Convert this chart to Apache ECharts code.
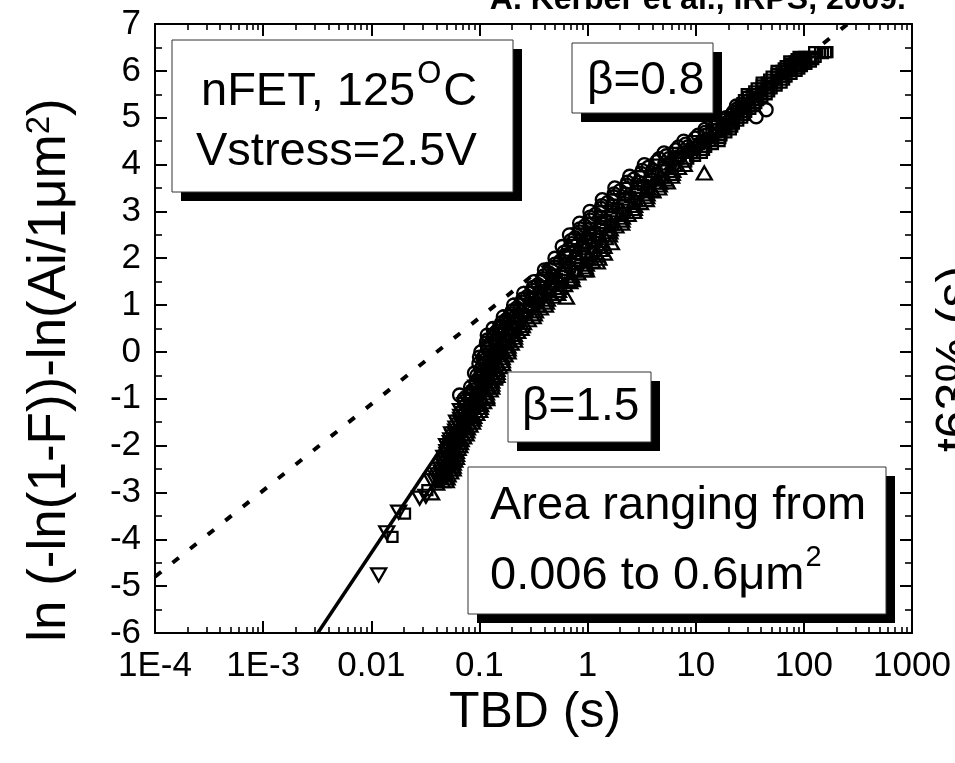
<!DOCTYPE html>
<html>
<head>
<meta charset="utf-8">
<script src="https://cdn.jsdelivr.net/npm/echarts@6/dist/echarts.min.js"></script>
<style>
  html, body { margin: 0; padding: 0; background: #fff; }
  #chart { width: 955px; height: 763px; }
</style>
</head>
<body>
<div id="chart"></div>
<script>
// Weibull plot of breakdown times: x = TBD (s), y = ln(-ln(1-F)) - ln(Ai/1um^2)

// Axis ticks
const xTickValues = [1e-4, 1e-3, 0.01, 0.1, 1, 10, 100, 1000];
const xTickText = ['1E-4', '1E-3', '0.01', '0.1', '1', '10', '100', '1000'];
const yTickValues = [-6, -5, -4, -3, -2, -1, 0, 1, 2, 3, 4, 5, 6, 7];

// Measured points [TBD (s), scaled Weibit], one array per device area
const circles = [
  [0.0655,-0.92],[0.09,-0.45],[0.1,-0.11],[0.116,0.19],[0.118,0.36],[0.153,0.51],[0.178,0.58],
  [0.22,0.79],[0.309,1.15],[0.359,1.26],[6.6,4.14],[8.7,4.31],[12.5,4.63],[15.5,4.74],[20.4,4.91],
  [36.2,5.02],[44.8,5.17],
  [0.0723,-1.0],[0.0828,-0.75],[0.0948,-0.5],[0.0989,-0.25],[0.1030,0.0],[0.1175,0.25],[0.1334,0.5],
  [0.1663,0.75],[0.2070,1.0],[0.2564,1.25],[0.3192,1.5],[0.3990,1.75],[0.4989,2.0],[0.5821,2.25],
  [0.6792,2.5],[0.8433,2.75],[1.050,3.0],[1.368,3.25],[1.786,3.5],[2.449,3.75],[3.350,4.0],
  [5.093,4.25],[7.745,4.5],[12.16,4.75],[19.10,5.0],[23.77,5.25],
  [0.0820,-0.875],[0.0938,-0.625],[0.1026,-0.375],[0.1081,-0.125],[0.1183,0.125],[0.1346,0.375],
  [0.1607,0.625],[0.2009,0.875],[0.2512,1.125],[0.3141,1.375],[0.3926,1.625],[0.4989,1.875],
  [0.6039,2.125],[0.6998,2.375],[0.8453,2.625],[1.054,2.875],[1.349,3.125],[1.758,3.375],
  [2.339,3.625],[3.199,3.875],[4.581,4.125],[6.934,4.375],[10.54,4.625],[16.14,4.875],[22.34,5.125],
  [1.050,2.625],[1.327,2.875],[1.706,3.125],[2.223,3.375],[2.944,3.625],[3.972,3.875],[5.636,4.125],
  [8.433,4.375],[12.45,4.625],[18.03,4.875],[24.43,5.125],
  [0.0817,-0.9375],[0.0873,-0.8125],[0.0931,-0.6875],[0.0995,-0.5625],[0.1042,-0.4375],[0.1072,-0.3125],
  [0.1102,-0.1875],[0.1135,-0.0625],[0.1189,0.0625],[0.1269,0.1875],[0.1355,0.3125],[0.1445,0.4375],
  [0.1578,0.5625],[0.1770,0.6875],[0.1982,0.8125],[0.2218,0.9375],[0.2483,1.0625],[0.2780,1.1875],
  [0.3112,1.3125],[0.3479,1.4375],[0.3899,1.5625],[0.4395,1.6875],[0.4966,1.8125],[0.5598,1.9375],
  [0.6166,2.0625],[0.6637,2.1875],[0.7134,2.3125],[0.7674,2.4375],[0.8433,2.5625],[0.9441,2.6875],
  [1.057,2.8125],[1.183,2.9375],[1.337,3.0625],[1.528,3.1875],[1.742,3.3125],[1.991,3.4375],
  [2.296,3.5625],[2.679,3.6875],[3.126,3.8125],[3.639,3.9375],[4.355,4.0625],[5.346,4.1875],
  [6.568,4.3125],[8.072,4.4375],[9.908,4.5625],[12.19,4.6875],[14.96,4.8125],[18.37,4.9375],
  [21.58,5.0625],[24.15,5.1875]
];
const downTriangles = [
  [0.0117,-4.76],[0.0139,-3.86],[0.0179,-3.42],[0.028,-3.12],[0.032,-3.08],
  [0.0361,-2.75],[0.0443,-2.5],[0.0469,-2.25],[0.0497,-2.0],[0.0553,-1.75],[0.0615,-1.5],[0.0667,-1.25],
  [0.0414,-2.625],[0.0470,-2.375],[0.0500,-2.125],[0.0543,-1.875],[0.0607,-1.625],[0.0671,-1.375],
  [0.0733,-1.125],
  [0.0390,-2.75],[0.0472,-2.5],[0.0501,-2.25],[0.0533,-2.0],[0.0597,-1.75],[0.0670,-1.5],[0.0739,-1.25],
  [0.0815,-1.0],[0.0927,-0.75],[0.1054,-0.5],[0.1122,-0.25],[0.1191,0.0],[0.1361,0.25],[0.1549,0.5],
  [0.1950,0.75],[0.2449,1.0],[0.3076,1.25],[0.3864,1.5],[0.4932,1.75],[0.6295,2.0],[0.7278,2.25],
  [0.8414,2.5],
  [0.0445,-2.625],[0.0503,-2.375],[0.0535,-2.125],[0.0585,-1.875],[0.0658,-1.625],[0.0736,-1.375],
  [0.0820,-1.125],[0.0920,-0.875],[0.1045,-0.625],[0.1153,-0.375],[0.1239,-0.125],[0.1371,0.125],
  [0.1563,0.375],[0.1875,0.625],[0.2371,0.875],[0.2992,1.125],[0.3784,1.375],[0.4786,1.625],
  [0.6237,1.875],[0.7586,2.125],[0.8710,2.375],
  [0.0402,-2.6875],[0.0443,-2.5625],[0.0471,-2.4375],[0.0485,-2.3125],[0.0501,-2.1875],[0.0516,-2.0625],
  [0.0538,-1.9375],[0.0569,-1.8125],[0.0603,-1.6875],[0.0637,-1.5625],[0.0671,-1.4375],[0.0703,-1.3125],
  [0.0737,-1.1875],[0.0773,-1.0625]
];
const upTriangles = [
  [0.0361,-3.01],[0.0402,-2.8],[0.0565,-2.31],[0.0615,-1.81],[0.0845,-1.39],[0.116,-0.96],
  [0.138,-0.53],[0.637,1.17],[0.724,1.54],[0.975,1.75],[1.23,1.92],[1.43,2.11],[1.66,2.33],
  [3.96,3.46],[5.46,3.63],[12.0,3.82],
  [0.0456,-2.75],[0.0536,-2.5],[0.0573,-2.25],[0.0612,-2.0],[0.0698,-1.75],[0.0792,-1.5],[0.0906,-1.25],
  [0.1035,-1.0],[0.1164,-0.75],[0.1306,-0.5],[0.1442,-0.25],[0.1592,0.0],[0.1824,0.25],[0.2089,0.5],
  [0.2679,0.75],[0.3443,1.0],[0.4416,1.25],[0.5662,1.5],[0.7551,1.75],[1.007,2.0],[1.135,2.25],
  [1.285,2.5],[1.652,2.75],[2.118,3.0],[2.761,3.25],[3.606,3.5],[4.786,3.75],[6.339,4.0],
  [0.0493,-2.75],[0.0571,-2.5],[0.0612,-2.25],[0.0658,-2.0],[0.0753,-1.75],[0.0863,-1.5],[0.1005,-1.25],
  [0.1167,-1.0],[0.1300,-0.75],[0.1452,-0.5],[0.1637,-0.25],[0.1841,0.0],[0.2113,0.25],[0.2427,0.5],
  [0.3141,0.75],[0.4074,1.0],[0.5297,1.25],[0.6855,1.5],[0.9333,1.75],[1.271,2.0],[1.419,2.25],
  [1.592,2.5],[2.065,2.75],[2.679,3.0],[3.491,3.25],[4.550,3.5],[5.984,3.75],[7.834,4.0],
  [0.0513,-2.625],[0.0573,-2.375],[0.0612,-2.125],[0.0678,-1.875],[0.0774,-1.625],[0.0887,-1.375],
  [0.1026,-1.125],[0.1161,-0.875],[0.1300,-0.625],[0.1455,-0.375],[0.1622,-0.125],[0.1837,0.125],
  [0.2104,0.375],[0.2553,0.625],[0.3296,0.875],[0.4246,1.125],[0.5483,1.375],[0.7112,1.625],
  [0.9727,1.875],[1.200,2.125],[1.346,2.375],[1.622,2.625],[2.099,2.875],[2.723,3.125],[3.548,3.375],
  [4.656,3.625],[6.138,3.875],
  [0.0502,-2.6875],[0.0542,-2.5625],[0.0571,-2.4375],[0.0592,-2.3125],[0.0614,-2.1875],[0.0635,-2.0625],
  [0.0668,-1.9375],[0.0714,-1.8125],[0.0764,-1.6875],[0.0817,-1.5625],[0.0877,-1.4375],[0.0944,-1.3125],
  [0.1016,-1.1875],[0.1091,-1.0625],[0.1164,-0.9375],[0.1259,-0.8125],[0.1300,-0.6875],[0.1374,-0.5625],
  [0.1455,-0.4375],[0.1542,-0.3125],[0.1629,-0.1875],[0.1726,-0.0625],[0.1841,0.0625],[0.1968,0.1875],
  [0.2109,0.3125],[0.2259,0.4375],[0.2489,0.5625],[0.2831,0.6875],[0.3221,0.8125],[0.3664,0.9375],
  [0.4159,1.0625],[0.4742,1.1875],[0.5395,1.3125],[0.6130,1.4375],[0.6998,1.5625],[0.8128,1.6875],
  [0.9550,1.8125],[1.112,1.9375],[1.233,2.0625],[1.306,2.1875],[1.380,2.3125],[1.462,2.4375],
  [1.607,2.5625],[1.828,2.6875],[2.080,2.8125],[2.371,2.9375],[2.704,3.0625],[3.083,3.1875],
  [3.524,3.3125],[4.018,3.4375],[4.603,3.5625],[5.272,3.6875],[6.053,3.8125],[6.934,3.9375]
];
const squares = [
  [0.0157,-3.95],[0.0205,-3.45],[0.033,-2.95],
  [0.0422,-2.75],[0.0503,-2.5],[0.0536,-2.25],[0.0571,-2.0],[0.0646,-1.75],[0.0728,-1.5],[0.0818,-1.25],
  [0.0918,-1.0],[0.1038,-0.75],[0.1172,-0.5],[0.1271,-0.25],[0.1377,0.0],[0.1574,0.25],[0.1799,0.5],
  [0.2286,0.75],[0.2904,1.0],[0.3681,1.25],[0.4677,1.5],[0.6095,1.75],[0.7962,2.0],[0.9080,2.25],
  [1.040,2.5],[1.321,2.75],[1.679,3.0],[2.188,3.25],[2.851,3.5],[3.828,3.75],[5.129,4.0],[7.621,4.25],
  [11.35,4.5],[16.03,4.75],[22.70,5.0],[28.84,5.25],[36.64,5.5],[50.35,5.75],[69.34,6.0],[92.26,6.2],
  [124.5,6.4],
  [0.0478,-2.625],[0.0536,-2.375],[0.0573,-2.125],[0.0630,-1.875],[0.0714,-1.625],[0.0809,-1.375],
  [0.0916,-1.125],[0.1035,-0.875],[0.1167,-0.625],[0.1294,-0.375],[0.1416,-0.125],[0.1585,0.125],
  [0.1811,0.375],[0.2188,0.625],[0.2793,0.875],[0.3565,1.125],[0.4550,1.375],[0.5834,1.625],
  [0.7780,1.875],[0.9550,2.125],[1.081,2.375],[1.306,2.625],[1.667,2.875],[2.153,3.125],[2.805,3.375],
  [3.698,3.625],[4.943,3.875],[6.934,4.125],[10.28,4.375],[14.66,4.625],[20.18,4.875],[26.79,5.125],
  [34.12,5.375],[45.29,5.625],[62.23,5.875],[85.51,6.1],[113.8,6.3],
  [1.057,2.75],[1.327,3.0],[1.730,3.25],[2.254,3.5],[3.062,3.75],[4.140,4.0],[6.223,4.25],[9.376,4.5],
  [13.96,4.75],[20.80,5.0],[26.18,5.25],[32.96,5.5],[45.29,5.75],[62.23,6.0],[82.22,6.2],
  [9.333,4.25],[13.74,4.5],[18.41,4.75],[24.72,5.0],[31.70,5.25],[40.74,5.5],[55.98,5.75],[77.09,6.0],
  [103.5,6.2],[141.3,6.4],
  [11.40,4.25],[16.63,4.5],[21.13,4.75],[26.92,5.0],[34.91,5.25],[45.29,5.5],[62.23,5.75],[85.70,6.0],
  [116.1,6.2],[160.3,6.4],
  [8.531,4.125],[12.50,4.375],[17.30,4.625],[22.54,4.875],[29.31,5.125],[37.76,5.375],[50.35,5.625],
  [69.18,5.875],[95.94,6.1],[128.5,6.3],
  [29.65,5.5],[40.74,5.75],[55.98,6.0],[73.28,6.2],
  [27.93,5.375],[36.64,5.625],[50.35,5.875],[67.92,6.1],[89.33,6.3],
  [30.90,5.375],[40.74,5.625],[55.98,5.875],[76.21,6.1],[100.9,6.3],
  [150,6.38],[165,6.4],
  [0.0449,-2.6875],[0.0490,-2.5625],[0.0519,-2.4375],[0.0536,-2.3125],[0.0555,-2.1875],[0.0572,-2.0625],
  [0.0600,-1.9375],[0.0638,-1.8125],[0.0679,-1.6875],[0.0721,-1.5625],[0.0767,-1.4375],[0.0815,-1.3125],
  [0.0865,-1.1875],[0.0918,-1.0625],[0.0975,-0.9375],[0.1035,-0.8125],[0.1102,-0.6875],[0.1169,-0.5625],
  [0.1230,-0.4375],[0.1285,-0.3125],[0.1340,-0.1875],[0.1400,-0.0625],[0.1479,0.0625],[0.1581,0.1875],
  [0.1690,0.3125],[0.1807,0.4375],[0.1982,0.5625],[0.2239,0.6875],[0.2523,0.8125],[0.2851,0.9375],
  [0.3214,1.0625],[0.3631,1.1875],[0.4093,1.3125],[0.4618,1.4375],[0.5224,1.5625],[0.5976,1.6875],
  [0.6887,1.8125],[0.7889,1.9375],[0.8730,2.0625],[0.9311,2.1875],[0.9931,2.3125],[1.059,2.4375],
  [1.164,2.5625],[1.312,2.6875],[1.483,2.8125],[1.675,2.9375],[1.901,3.0625],[2.168,3.1875],
  [2.477,3.3125],[2.831,3.4375],[3.251,3.5625],[3.758,3.6875],[4.345,3.8125],[5.023,3.9375],
  [5.970,4.0625],[7.261,4.1875],[8.851,4.3125],[10.79,4.4375],[12.94,4.5625],[15.28,4.6875],
  [18.03,4.8125],[21.33,4.9375],[24.60,5.0625],[27.80,5.1875],[31.33,5.3125],[35.40,5.4375],
  [40.74,5.5625],[47.75,5.6875],[55.98,5.8125],[65.61,5.9375],[76.91,6.05],[88.82,6.15],[96.05,6.25],
  [8.166,4.0625],[9.863,4.1875],[11.94,4.3125],[14.42,4.4375],[16.90,4.5625],[19.19,4.6875],
  [21.78,4.8125],[24.72,4.9375],[28.12,5.0625],[31.99,5.1875],[36.31,5.3125],[41.30,5.4375],
  [47.75,5.5625],[55.98,5.6875],[65.61,5.8125],[76.91,5.9375],[90.78,6.05],[105.6,6.15],[122.2,6.25],
  [27.04,5.3125],[30.34,5.4375],[34.75,5.5625],[40.74,5.6875],[47.75,5.8125],[55.98,5.9375],
  [65.16,6.05],[74.73,6.15],[85.70,6.25]
];

// Weibull fit lines (end points)
const fitBeta08 = [[1e-4, -4.80], [254, 7.0]];
const fitBeta15 = [[0.0032, -6.0], [1.0, 2.62]];

const FONT = '"Liberation Sans", Arial, Helvetica, sans-serif';

function xLabel(v) {
  let best = 0, bd = Infinity;
  xTickValues.forEach((t, i) => {
    const d = Math.abs(Math.log10(t) - Math.log10(v));
    if (d < bd) { bd = d; best = i; }
  });
  return bd < 1e-6 ? xTickText[best] : '';
}

const axisLine = { show: true, onZero: false, lineStyle: { color: '#000', width: 2 } };

function logAxis(pos, showLabels) {
  return {
    type: 'log', logBase: 10, min: 1e-4, max: 1000, position: pos,
    axisLine: axisLine,
    axisTick: { show: true, inside: true, length: 12, lineStyle: { color: '#000', width: 2 } },
    minorTick: { show: true, splitNumber: 9, length: 6, lineStyle: { color: '#000', width: 1.6 } },
    axisLabel: { show: showLabels, margin: 16, formatter: xLabel,
      fontFamily: FONT, fontSize: 35, color: '#000' },
    splitLine: { show: false }, minorSplitLine: { show: false }
  };
}
function linAxis(pos, showLabels) {
  return {
    type: 'value', min: yTickValues[0], max: yTickValues[yTickValues.length - 1], interval: 1,
    position: pos,
    axisLine: axisLine,
    axisTick: { show: true, inside: true, length: 12, lineStyle: { color: '#000', width: 2 } },
    minorTick: { show: true, splitNumber: 2, length: 7, lineStyle: { color: '#000', width: 1.6 } },
    axisLabel: { show: showLabels, margin: 14, fontFamily: FONT, fontSize: 35, color: '#000',
      formatter: v => String(v) },
    splitLine: { show: false }, minorSplitLine: { show: false }
  };
}

// Open markers: outline only, no fill
function marker(name, data, symbol, size, rotate) {
  return {
    name, type: 'scatter', data, symbol, symbolSize: size, symbolRotate: rotate || 0,
    xAxisIndex: 0, yAxisIndex: 0, z: 3, large: false,
    itemStyle: { color: 'rgba(0,0,0,0)', borderColor: '#000', borderWidth: 2.3, opacity: 1 },
    emphasis: { disabled: true }, silent: true
  };
}

// Framed note with a drop shadow
function noteBox(x0, y0, x1, y1) {
  return [
    { type: 'rect', z: 100, shape: { x: x0 + 9, y: y0 + 9, width: x1 - x0, height: y1 - y0 },
      style: { fill: '#000' } },
    { type: 'rect', z: 101, shape: { x: x0, y: y0, width: x1 - x0, height: y1 - y0 },
      style: { fill: '#fff', stroke: '#333', lineWidth: 1 } }
  ];
}

// A line of text made of runs [text, fontSize, yMiddle, gapBefore], laid out left to right
const measureCtx = document.createElement('canvas').getContext('2d');
function textRun(x, runs) {
  const out = [];
  let cx = x;
  runs.forEach(([text, size, y, gap]) => {
    cx += gap || 0;
    out.push({ type: 'text', z: 102, style: { x: cx, y, text, fill: '#000',
      font: size + 'px ' + FONT, textAlign: 'left', textVerticalAlign: 'middle' } });
    measureCtx.font = size + 'px ' + FONT;
    cx += measureCtx.measureText(text).width;
  });
  return out;
}

const chart = echarts.init(document.getElementById('chart'), null, { renderer: 'canvas' });
chart.setOption({
  animation: false,
  backgroundColor: '#fff',
  grid: { left: 155, top: 24, width: 757, height: 609, containLabel: false },
  xAxis: [logAxis('bottom', true), logAxis('top', false)],
  yAxis: [linAxis('left', true), linAxis('right', false)],
  series: [
    marker('downTriangles', downTriangles, 'triangle', [15, 13], 180),
    marker('upTriangles', upTriangles, 'triangle', [15, 13]),
    marker('squares', squares, 'rect', 10),
    marker('circles', circles, 'circle', 13),
    { name: 'beta 0.8', type: 'line', data: fitBeta08, showSymbol: false, symbol: 'none', z: 4, clip: true,
      lineStyle: { color: '#000', width: 4, type: [8, 14.5], cap: 'butt' }, silent: true },
    { name: 'beta 1.5', type: 'line', data: fitBeta15, showSymbol: false, symbol: 'none', z: 4, clip: true,
      lineStyle: { color: '#000', width: 3.5 }, silent: true }
  ],
  graphic: [
    { type: 'text', z: 102, style: { x: 906, y: 0, text: 'A. Kerber et al., IRPS, 2009.',
      font: 'bold 32px ' + FONT, fill: '#000', textAlign: 'right', textVerticalAlign: 'middle' } },
    ...noteBox(172, 40, 513, 192),
    ...textRun(201, [['nFET, 125', 47, 91.7], ['O', 31, 74, 2], ['C', 47, 91.7, 2]]),
    ...textRun(196, [['Vstress=2.5V', 47, 151.7]]),
    ...noteBox(572, 43, 713, 113),
    ...textRun(587, [['β=0.8', 46, 81.1]]),
    ...noteBox(508, 372, 651, 442),
    ...textRun(522, [['β=1.5', 46, 407.1]]),
    ...noteBox(468, 467, 886, 614),
    ...textRun(490, [['Area ranging from', 47, 505.7]]),
    ...textRun(490, [['0.006 to 0.6μm', 47, 575.7], ['2', 29, 558, 1]]),
    { type: 'text', z: 102, x: 535, y: 713, style: { x: 0, y: 0, text: 'TBD (s)',
      font: '50px ' + FONT, fill: '#000', textAlign: 'center', textVerticalAlign: 'middle' } },
    { type: 'text', z: 102, x: 50, y: 370, rotation: Math.PI / 2, style: { x: 0, y: 0,
      text: '{n|ln (-ln(1-F))-ln(Ai/1μm}{sup|2}{n|)}', font: '53px ' + FONT, fill: '#000',
      textAlign: 'center', textVerticalAlign: 'middle',
      rich: { n: { fontSize: 53, fontFamily: FONT, fill: '#000' },
              sup: { fontSize: 33, fontFamily: FONT, verticalAlign: 'top', fill: '#000' } } } },
    { type: 'text', z: 102, x: 957, y: 359, rotation: Math.PI / 2, style: { x: 0, y: 0,
      text: 't63% (s)', font: '50px ' + FONT, fill: '#000',
      textAlign: 'center', textVerticalAlign: 'middle' } }
  ]
});
</script>
</body>
</html>
